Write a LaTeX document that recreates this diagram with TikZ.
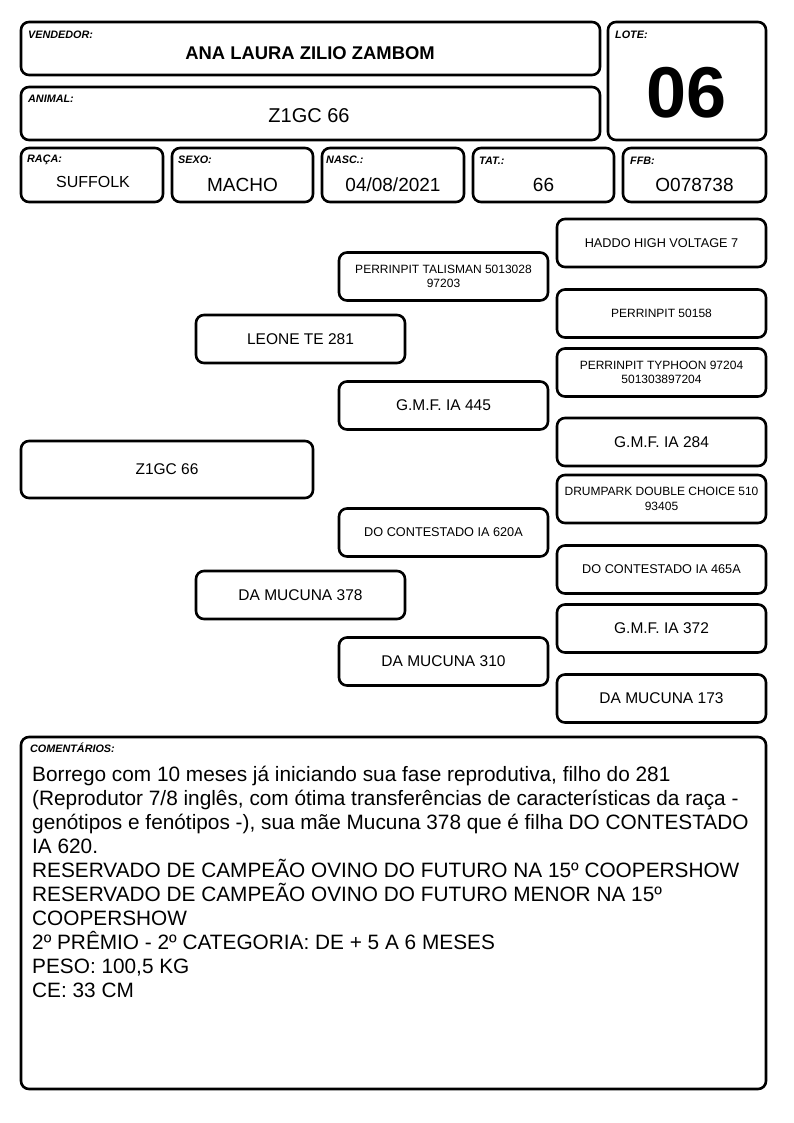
\documentclass[tikz,border=0pt]{standalone}
\usepackage{fontspec}
\setmainfont{Liberation Sans}
\usepackage{tikz}

\tikzset{
  caixa/.style={draw, line width=2.6pt, rounded corners=8pt, inner sep=0pt},
  rotulo/.style={anchor=base west, inner sep=0pt, font=\fontsize{10.8}{12}\selectfont\bfseries\itshape},
  valor/.style={anchor=base, inner sep=0pt},
  ped/.style={caixa, minimum width=209pt, minimum height=48pt, align=center, inner sep=2pt},
}

\begin{document}
\begin{tikzpicture}[x=1pt,y=-1pt]
  \useasboundingbox (0,0) rectangle (794,1123);

  % cabecalho
  \node[caixa, minimum width=579pt, minimum height=53pt] (vend) at (310.5,48.5) {};
  \node[caixa, minimum width=579pt, minimum height=53pt] (anim) at (310.5,113.5) {};
  \node[caixa, minimum width=158pt, minimum height=118pt] (lote) at (687,81) {};
  \node[caixa, minimum width=142pt, minimum height=54pt] (raca) at (92,175) {};
  \node[caixa, minimum width=141pt, minimum height=54pt] (sexo) at (242.5,175) {};
  \node[caixa, minimum width=142pt, minimum height=54pt] (nasc) at (393,175) {};
  \node[caixa, minimum width=141pt, minimum height=54pt] (tat) at (543.5,175) {};
  \node[caixa, minimum width=143pt, minimum height=54pt] (ffb) at (694.5,175) {};

  \node[rotulo] (vendL) at (28,39) {VENDEDOR:};
  \node[rotulo] (animL) at (28,103) {ANIMAL:};
  \node[rotulo] (loteL) at (615,39) {LOTE:};
  \node[rotulo] (racaL) at (27,163) {RAÇA:};
  \node[rotulo] (sexoL) at (178,164) {SEXO:};
  \node[rotulo] (nascL) at (326,164) {NASC.:};
  \node[rotulo] (tatL) at (479,165) {TAT.:};
  \node[rotulo] (ffbL) at (630,165) {FFB:};

  \node[valor, font=\fontsize{18.4}{20}\selectfont\bfseries] (vendV) at (310,60) {ANA LAURA ZILIO ZAMBOM};
  \node[valor, font=\fontsize{20}{22}\selectfont] (animV) at (309,123) {Z1GC 66};
  \node[valor, font=\fontsize{72}{80}\selectfont\bfseries] (loteV) at (687,118) {06};
  \node[valor, font=\fontsize{16}{18}\selectfont] (racaV) at (93,188) {SUFFOLK};
  \node[valor, font=\fontsize{19}{21}\selectfont] (sexoV) at (242.5,192) {MACHO};
  \node[valor, font=\fontsize{19}{21}\selectfont] (nascV) at (393,192) {04/08/2021};
  \node[valor, font=\fontsize{19}{21}\selectfont] (tatV) at (543.5,192) {66};
  \node[valor, font=\fontsize{19}{21}\selectfont] (ffbV) at (694.5,192) {O078738};

  % genealogia
  \begin{scope}[every node/.style={ped, font=\fontsize{15.5}{17}\selectfont}]
    \node[minimum width=292pt, minimum height=57pt] (p0) at (167,469.5) {Z1GC 66};
    \node (pai) at (300.5,339) {LEONE TE 281};
    \node (mae) at (300.5,595) {DA MUCUNA 378};
    \node[font=\fontsize{12}{14.5}\selectfont] (avo1) at (443.5,276.5) {PERRINPIT TALISMAN 5013028\\97203};
    \node (avo2) at (443.5,405.5) {G.M.F. IA 445};
    \node[font=\fontsize{12.7}{15}\selectfont] (avo3) at (443.5,532.5) {DO CONTESTADO IA 620A};
    \node (avo4) at (443.5,661.5) {DA MUCUNA 310};
    \node[font=\fontsize{12.7}{15}\selectfont] (bis1) at (661.5,243) {HADDO HIGH VOLTAGE 7};
    \node[font=\fontsize{12}{14.5}\selectfont] (bis2) at (661.5,313.5) {PERRINPIT 50158};
    \node[font=\fontsize{12}{14.5}\selectfont] (bis3) at (661.5,372.5) {PERRINPIT TYPHOON 97204\\501303897204};
    \node (bis4) at (661.5,442) {G.M.F. IA 284};
    \node[font=\fontsize{12}{14.5}\selectfont] (bis5) at (661.5,499) {DRUMPARK DOUBLE CHOICE 510\\93405};
    \node[font=\fontsize{12.7}{15}\selectfont] (bis6) at (661.5,569.5) {DO CONTESTADO IA 465A};
    \node (bis7) at (661.5,628.5) {G.M.F. IA 372};
    \node (bis8) at (661.5,698.5) {DA MUCUNA 173};
  \end{scope}

  % comentarios
  \node[caixa, minimum width=745pt, minimum height=352pt] (coment) at (393.5,913) {};
  \node[rotulo] (comentL) at (30,752) {COMENTÁRIOS:};
  \foreach \t [count=\i from 0] in {
      {Borrego com 10 meses já iniciando sua fase reprodutiva, filho do 281},
      {(Reprodutor 7/8 inglês, com ótima transferências de características da raça -},
      {genótipos e fenótipos -), sua mãe Mucuna 378 que é filha DO CONTESTADO},
      {IA 620.},
      {RESERVADO DE CAMPEÃO OVINO DO FUTURO NA 15º COOPERSHOW},
      {RESERVADO DE CAMPEÃO OVINO DO FUTURO MENOR NA 15º},
      {COOPERSHOW},
      {2º PRÊMIO - 2º CATEGORIA: DE + 5 A 6 MESES},
      {PESO: 100,5 KG},
      {CE: 33 CM}}
    \node[anchor=base west, inner sep=0pt, font=\fontsize{20.8}{24}\selectfont] (linha\i) at (32,781+24*\i) {\t};
\end{tikzpicture}
\end{document}
